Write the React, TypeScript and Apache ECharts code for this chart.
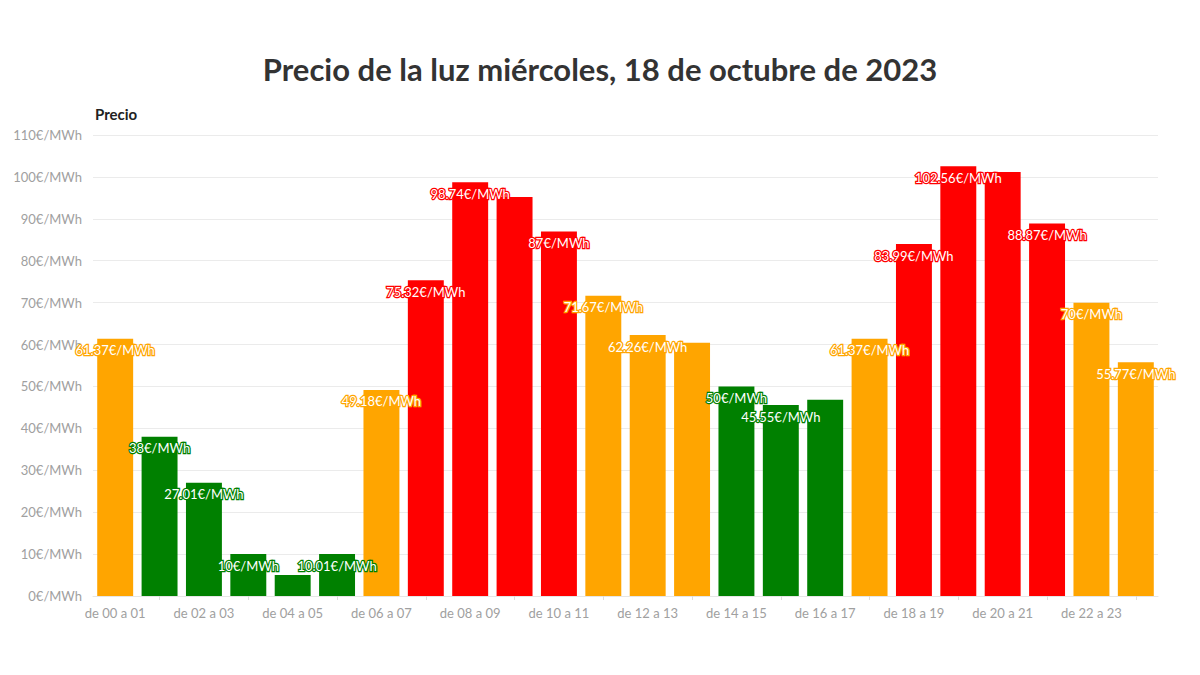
import React, { useEffect, useRef } from "react";
import * as echarts from "echarts";

const hours = [
  "de 00 a 01", "de 01 a 02", "de 02 a 03", "de 03 a 04", "de 04 a 05", "de 05 a 06",
  "de 06 a 07", "de 07 a 08", "de 08 a 09", "de 09 a 10", "de 10 a 11", "de 11 a 12",
  "de 12 a 13", "de 13 a 14", "de 14 a 15", "de 15 a 16", "de 16 a 17", "de 17 a 18",
  "de 18 a 19", "de 19 a 20", "de 20 a 21", "de 21 a 22", "de 22 a 23", "de 23 a 24",
];
const prices = [
  61.37, 38, 27.01, 10, 5, 10.01, 49.18, 75.32, 98.74, 95.2, 87, 71.67,
  62.26, 60.4, 50, 45.55, 46.8, 61.37, 83.99, 102.56, 101.2, 88.87, 70, 55.77,
];
const levels = [
  "medio", "bajo", "bajo", "bajo", "bajo", "bajo", "medio", "alto", "alto", "alto", "alto", "medio",
  "medio", "medio", "bajo", "bajo", "bajo", "medio", "alto", "alto", "alto", "alto", "medio", "medio",
];
const showLabel = [
  true, true, true, true, false, true, true, true, true, false, true, true,
  true, false, true, true, false, true, true, true, false, true, true, true,
];
const yTicks = [0, 10, 20, 30, 40, 50, 60, 70, 80, 90, 100, 110];
const levelColors: Record<string, string> = {
  bajo: "#008000",
  medio: "#FFA500",
  alto: "#FF0000",
};

const FONT = "Lato, 'Open Sans', sans-serif";

export default function App() {
  const ref = useRef<HTMLDivElement>(null);
  useEffect(() => {
    if (!ref.current) return;
    const chart = echarts.init(ref.current, null, { renderer: "svg" });
    const data = prices.map((v, i) => {
      const c = levelColors[levels[i]];
      return {
        value: v,
        itemStyle: { color: c },
        label: {
          show: showLabel[i],
          textBorderColor: c,
        },
      };
    });
    chart.setOption({
      animation: false,
      backgroundColor: "#ffffff",
      textStyle: { fontFamily: FONT },
      title: {
        text: "Precio de la luz miércoles, 18 de octubre de 2023",
        left: "center",
        top: 48,
        textStyle: { fontFamily: FONT, fontSize: 31, fontWeight: "bold", color: "#333333" },
      },
      grid: { left: 93, right: 42, top: 135, bottom: 79 },
      xAxis: {
        type: "category",
        data: hours,
        axisLine: { show: true, lineStyle: { color: "#e6e6e6" } },
        axisTick: {
          show: true,
          alignWithLabel: true,
          interval: (i: number) => i % 2 === 1,
          length: 4,
          lineStyle: { color: "#dddddd" },
        },
        axisLabel: {
          interval: 1,
          color: "#a0a0a0",
          fontSize: 13,
          margin: 10,
          fontFamily: FONT,
        },
      },
      yAxis: {
        type: "value",
        min: 0,
        max: 110,
        interval: 10,
        name: "Precio",
        nameLocation: "end",
        nameGap: 14,
        nameTextStyle: {
          align: "left",
          fontSize: 15,
          fontWeight: "bold",
          color: "#222222",
          fontFamily: FONT,
          padding: [0, 0, 0, 2],
        },
        axisLine: { show: false },
        axisTick: { show: false },
        splitLine: { lineStyle: { color: "#ebebeb" } },
        axisLabel: {
          color: "#a0a0a0",
          fontSize: 13,
          margin: 11,
          fontFamily: FONT,
          formatter: (v: number) => (yTicks.includes(v) ? `${v}€/MWh` : ""),
        },
      },
      series: [
        {
          type: "bar",
          data,
          barCategoryGap: "19%",
          label: {
            show: true,
            position: "insideTop",
            distance: 5,
            color: "#ffffff",
            fontSize: 13,
            fontFamily: FONT,
            textBorderWidth: 2.5,
            formatter: (p: any) => `${p.value}€/MWh`,
          },
        },
      ],
    });
    return () => chart.dispose();
  }, []);
  return (
    <div
      ref={ref}
      style={{ position: "absolute", left: 0, top: 0, width: 1200, height: 675, background: "#fff" }}
    />
  );
}
